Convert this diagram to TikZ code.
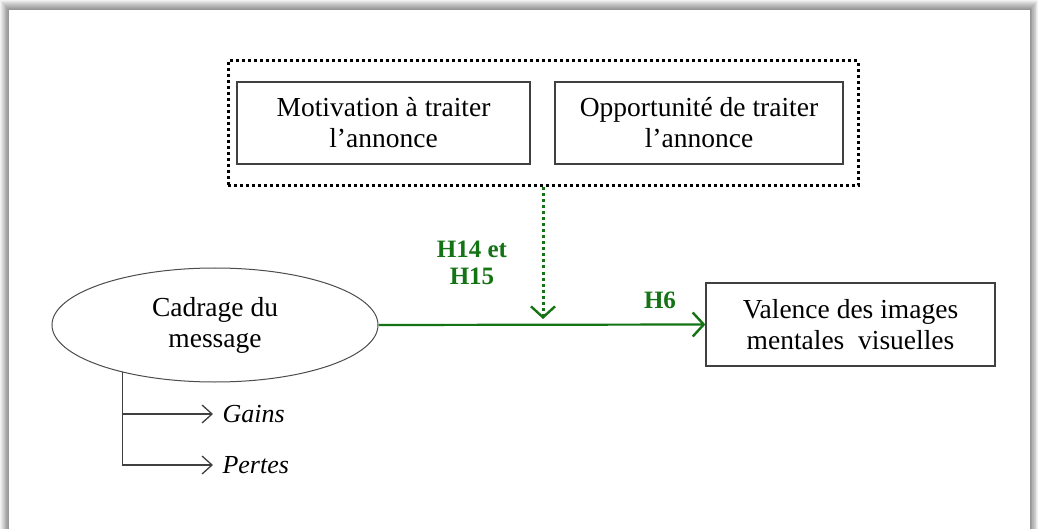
\documentclass[tikz,border=0pt]{standalone}
\usepackage{fontspec}
\setmainfont{Liberation Serif}
\usetikzlibrary{positioning, arrows.meta, shapes.geometric}
\definecolor{darkgreen}{rgb}{0.08, 0.45, 0.08}

\begin{document}
\begin{tikzpicture}[x=1pt, y=-1pt,
    boite/.style={draw=black!75, line width=1.3pt, minimum height=82pt, align=center, font=\fontsize{27.5}{31}\selectfont},
    lien/.style={darkgreen, line width=2.2pt, -{Straight Barb[length=11pt, width=24pt, line width=2.4pt]}},
    hyp/.style={darkgreen, font=\bfseries\fontsize{25}{27}\selectfont, align=center},
    branche/.style={black!75, line width=1.2pt, -{Straight Barb[length=10pt, width=18pt, line width=1.3pt]}}]
  \useasboundingbox (0,0) rectangle (1038,529);
  % Page shadow
  \foreach \i in {0,...,9}
    \fill[black, opacity=0.05] (\i*0.9, \i) rectangle (1038-\i*0.8, 540);
  \fill[white] (9,10) rectangle (1030,540);
  % Moderators
  \node[draw, line width=3pt, dash pattern=on 3pt off 3pt, minimum width=630pt, minimum height=125pt] (cadre) at (543,123.5) {};
  \node[boite, minimum width=293pt] (motivation) at (383.5,123) {Motivation à traiter\\l’annonce};
  \node[boite, minimum width=288pt] (opportunite) at (699,123) {Opportunité de traiter\\l’annonce};
  % Main constructs
  \node[draw=black!70, line width=1pt, ellipse, minimum width=326pt, minimum height=114pt, align=center, font=\fontsize{27.5}{31}\selectfont] (cadrage) at (215,325) {Cadrage du\\message};
  \node[boite, minimum width=289pt, minimum height=83pt] (valence) at (850.5,324.5) {Valence des images\\mentales~ visuelles};
  % Paths
  \draw[lien] (cadrage.east) -- (valence.west);
  \coordinate (croise) at (cadre.south |- cadrage.east);
  \draw[lien, line width=3pt, dash pattern=on 3pt off 3pt, shorten >=6pt] (cadre.south) -- (croise);
  \node[hyp] (h14) at (472,263) {H14 et\\H15};
  \node[hyp] (h6) at (660,300) {H6};
  % Levels of framing
  \node[anchor=west, font=\itshape\fontsize{26}{28}\selectfont] (gains) at (219,414) {Gains};
  \node[anchor=west, font=\itshape\fontsize{26}{28}\selectfont] (pertes) at (219,465) {Pertes};
  \draw[branche] (cadrage.207) |- ([xshift=-6pt]gains.west);
  \draw[branche] (cadrage.207) |- ([xshift=-6pt]pertes.west);
\end{tikzpicture}
\end{document}
